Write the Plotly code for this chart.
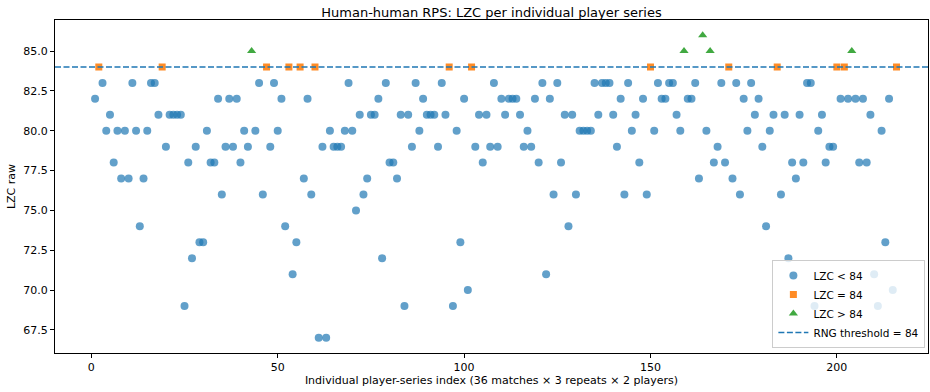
import numpy as np
import plotly.graph_objects as go

THRESH = 84

# LZC raw values for player series 1..216
lzc = [
    82, 84, 83, 80, 81, 78, 80, 77, 80, 77,
    83, 80, 74, 77, 80, 83, 83, 81, 84, 79,
    81, 81, 81, 81, 69, 78, 72, 79, 73, 73,
    80, 78, 78, 82, 76, 79, 82, 79, 82, 78,
    80, 79, 85, 80, 83, 76, 84, 79, 83, 80,
    82, 74, 84, 71, 73, 84, 77, 82, 76, 84,
    67, 79, 67, 80, 79, 79, 79, 80, 83, 80,
    75, 81, 76, 77, 81, 81, 82, 72, 83, 78,
    78, 77, 81, 69, 81, 79, 83, 80, 82, 81,
    81, 81, 79, 83, 81, 84, 69, 80, 73, 82,
    70, 84, 79, 81, 78, 81, 79, 83, 79, 82,
    81, 82, 82, 82, 81, 79, 80, 79, 82, 78,
    83, 71, 82, 76, 83, 78, 81, 74, 81, 76,
    80, 80, 80, 80, 83, 81, 83, 83, 83, 81,
    79, 82, 76, 83, 80, 81, 78, 82, 76, 84,
    80, 83, 82, 82, 83, 83, 81, 80, 85, 82,
    82, 83, 77, 86, 80, 85, 78, 79, 83, 78,
    84, 77, 83, 76, 82, 80, 83, 81, 82, 79,
    74, 80, 81, 84, 76, 81, 72, 78, 77, 81,
    78, 83, 83, 69, 80, 81, 78, 79, 79, 84,
    82, 84, 82, 85, 82, 78, 82, 78, 81, 71,
    69, 80, 73, 82, 70, 84,
]
index = list(range(1, len(lzc) + 1))

y_ticks = [67.5, 70.0, 72.5, 75.0, 77.5, 80.0, 82.5, 85.0]
x_ticks = [0, 50, 100, 150, 200]

idx = np.array(index)
val = np.array(lzc)
below = val < THRESH
equal = val == THRESH
above = val > THRESH

span_x = idx.max() - idx.min()
x_lo = idx.min() - 0.05 * span_x
x_hi = x_lo + 234.2
span_y = val.max() - val.min()
y_lo = val.min() - 0.05 * span_y
y_hi = val.max() + 0.05 * span_y

FONT = "DejaVu Sans"

fig = go.Figure()
fig.add_trace(go.Scatter(
    x=idx[below], y=val[below], mode="markers", name="LZC &lt; 84",
    marker=dict(symbol="circle", size=8, color="#1f77b4", opacity=0.7,
                line=dict(width=0)),
))
fig.add_trace(go.Scatter(
    x=idx[equal], y=val[equal], mode="markers", name="LZC = 84",
    marker=dict(symbol="square", size=7, color="#ff7f0e", opacity=0.9,
                line=dict(width=0)),
))
fig.add_trace(go.Scatter(
    x=idx[above], y=val[above], mode="markers", name="LZC &gt; 84",
    marker=dict(symbol="triangle-up", size=8, color="#2ca02c", opacity=0.9,
                line=dict(width=0)),
))
fig.add_trace(go.Scatter(
    x=[x_lo, x_hi], y=[THRESH, THRESH], mode="lines",
    name="RNG threshold = 84",
    line=dict(color="#1f77b4", width=1.5, dash="6px,2.5px"),
))

axis_common = dict(
    showline=True, mirror=True, linecolor="black", linewidth=1,
    ticks="outside", ticklen=4, tickwidth=1, tickcolor="black",
    showgrid=False, zeroline=False,
    tickfont=dict(family=FONT, size=11, color="black"),
)

fig.update_layout(
    width=930, height=392,
    margin=dict(l=55, r=2, t=20, b=39),
    paper_bgcolor="white", plot_bgcolor="white",
    font=dict(family=FONT, size=11, color="black"),
    title=dict(text="Human-human RPS: LZC per individual player series",
               x=0.5, xref="paper", xanchor="center",
               y=1, yref="paper", yanchor="bottom", pad=dict(b=3),
               font=dict(family=FONT, size=13, color="black")),
    xaxis=dict(range=[x_lo, x_hi], tickvals=x_ticks,
               title=dict(text="Individual player-series index (36 matches × 3 repeats × 2 players)",
                          font=dict(family=FONT, size=11), standoff=3),
               **axis_common),
    yaxis=dict(range=[y_lo, y_hi], tickvals=y_ticks, tickformat=".1f",
               title=dict(text="LZC raw", font=dict(family=FONT, size=11), standoff=5),
               **axis_common),
    legend=dict(x=0.997, y=0.015, xanchor="right", yanchor="bottom",
                bgcolor="rgba(255,255,255,0.8)", bordercolor="#cccccc",
                borderwidth=1, font=dict(family=FONT, size=10.5),
                tracegroupgap=0, itemsizing="trace", itemwidth=30),
    showlegend=True,
)

fig.write_html("out.html")
